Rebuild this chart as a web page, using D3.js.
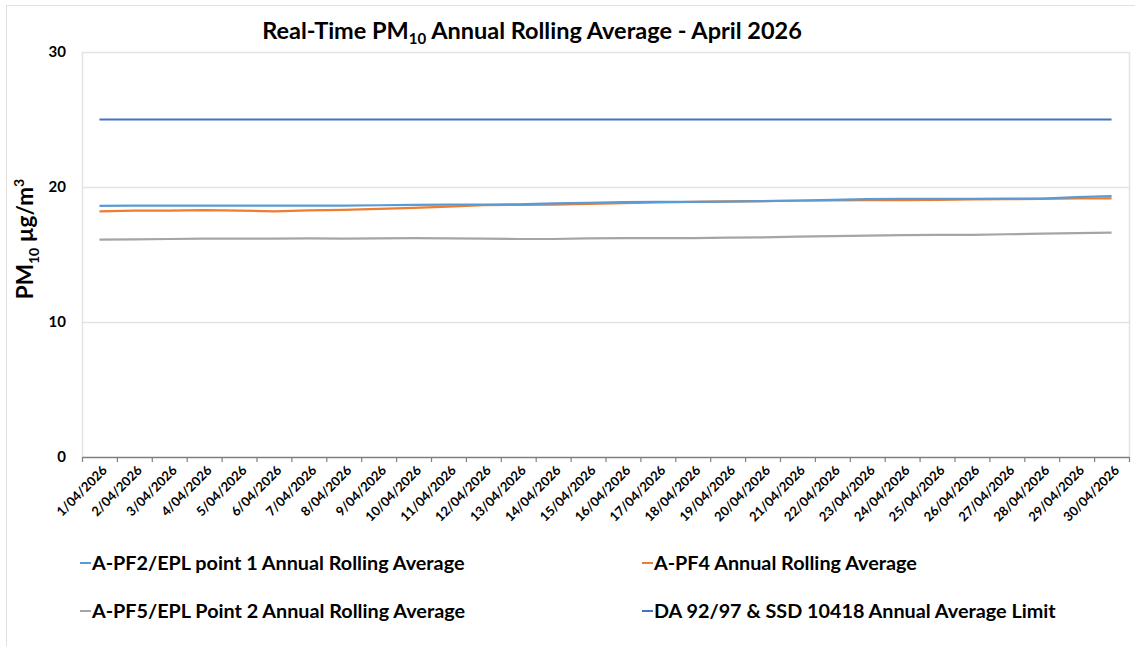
<!DOCTYPE html>
<html><head><meta charset="utf-8">
<script src="https://cdn.jsdelivr.net/npm/d3@7"></script>
<style>body{margin:0;background:#fff}svg{display:block}text{font-family:Lato,"Open Sans",sans-serif;font-weight:bold;fill:#000}</style>
</head><body>
<svg id="c" width="1135" height="646"></svg>
<script>
const categories = ["1/04/2026","2/04/2026","3/04/2026","4/04/2026","5/04/2026","6/04/2026","7/04/2026","8/04/2026","9/04/2026","10/04/2026","11/04/2026","12/04/2026","13/04/2026","14/04/2026","15/04/2026","16/04/2026","17/04/2026","18/04/2026","19/04/2026","20/04/2026","21/04/2026","22/04/2026","23/04/2026","24/04/2026","25/04/2026","26/04/2026","27/04/2026","28/04/2026","29/04/2026","30/04/2026"];
const pf2 = [18.6,18.62,18.62,18.62,18.62,18.62,18.62,18.62,18.65,18.68,18.7,18.7,18.72,18.78,18.82,18.88,18.9,18.9,18.92,18.95,19.0,19.05,19.1,19.12,19.12,19.12,19.14,19.15,19.25,19.32];
const pf4 = [18.2,18.25,18.25,18.28,18.25,18.2,18.27,18.3,18.38,18.45,18.55,18.65,18.68,18.7,18.75,18.8,18.85,18.9,18.93,18.96,18.98,19.0,19.02,19.03,19.05,19.08,19.1,19.12,19.15,19.16];
const pf5 = [16.1,16.12,16.15,16.17,16.17,16.18,16.2,16.18,16.2,16.22,16.2,16.17,16.15,16.15,16.2,16.22,16.22,16.22,16.25,16.27,16.32,16.36,16.4,16.44,16.45,16.46,16.5,16.55,16.58,16.62];
const limit = [25,25,25,25,25,25,25,25,25,25,25,25,25,25,25,25,25,25,25,25,25,25,25,25,25,25,25,25,25,25];
const yTicks = [0,10,20,30];
const seriesNames = ["A-PF2/EPL point 1 Annual Rolling Average","A-PF4 Annual Rolling Average","A-PF5/EPL Point 2 Annual Rolling Average","DA 92/97 & SSD 10418 Annual Average Limit"];
const seriesColors = ["#5B9BD5","#ED7D31","#A5A5A5","#4472C4"];
const seriesData = [pf2, pf4, pf5, limit];

const svg = d3.select("#c");
const L = 82, R = 1129, T = 52, B = 457;
svg.append("rect").attr("x",6.5).attr("y",5.5).attr("width",1140).attr("height",660).attr("fill","none").attr("stroke","#e0e0e0");

const x = d3.scaleBand().domain(categories).range([L,R]);
const y = d3.scaleLinear().domain([0,30]).range([B,T]);

// gridlines
svg.append("g").selectAll("line").data(yTicks.filter(d=>d>0)).join("line")
  .attr("x1",L).attr("x2",R).attr("y1",d=>y(d)+0.5).attr("y2",d=>y(d)+0.5).attr("stroke","#e3e3e3").attr("stroke-width",1.5);
svg.append("line").attr("x1",L+0.5).attr("x2",L+0.5).attr("y1",T).attr("y2",B).attr("stroke","#e3e3e3").attr("stroke-width",1.5);
svg.append("line").attr("x1",R+0.5).attr("x2",R+0.5).attr("y1",T).attr("y2",B).attr("stroke","#e3e3e3").attr("stroke-width",1.5);

// y axis labels
const ya = svg.append("g").attr("transform",`translate(${L},0)`).call(d3.axisLeft(y).tickValues(yTicks).tickSize(0).tickPadding(16));
ya.select(".domain").remove();
ya.selectAll("text").style("font-size","15px").style("font-weight","bold").style("font-family","Lato,sans-serif").attr("fill","#000");

// x axis
const xa = svg.append("g").attr("transform",`translate(0,${B})`).call(d3.axisBottom(x).tickSize(0));
xa.select(".domain").attr("stroke","#7f7f7f").attr("stroke-width",1.5);
xa.selectAll(".tick text").attr("transform",`rotate(-45)`).attr("text-anchor","end").attr("dx","-4px").attr("dy","13px")
  .style("font-size","13px").style("font-weight","bold").style("font-family","Lato,sans-serif").attr("fill","#000");
const bounds = categories.map(c=>x(c)).concat([R]);
svg.append("g").selectAll("line").data(bounds).join("line")
  .attr("x1",d=>d+0.5).attr("x2",d=>d+0.5).attr("y1",B).attr("y2",B+5).attr("stroke","#7f7f7f").attr("stroke-width",1.2);

// lines
const line = d3.line().x((d,i)=>x(categories[i])+x.bandwidth()/2).y(d=>y(d));
[3,2,1,0].forEach(k=>{
  svg.append("path").datum(seriesData[k]).attr("d",line).attr("fill","none").attr("stroke",seriesColors[k]).attr("stroke-width",2.2);
});

// title
const title = svg.append("text").attr("x",532).attr("y",39).attr("text-anchor","middle").style("font-size","23.5px");
title.append("tspan").text("Real-Time PM");
title.append("tspan").text("10").style("font-size","15px").attr("dy","5");
title.append("tspan").text(" Annual Rolling Average - April 2026").attr("dy","-5");

// y title
const yt = svg.append("text").attr("transform","translate(33,239) rotate(-90)").attr("text-anchor","middle").style("font-size","22.5px");
yt.append("tspan").text("PM");
yt.append("tspan").text("10").style("font-size","14px").attr("dy","6");
yt.append("tspan").text(" µg/m").attr("dy","-6");
yt.append("tspan").text("3").style("font-size","14px").attr("dy","-9");

// legend
const legPos = [[80,563],[642,563],[80,611],[642,611]];
seriesNames.forEach((n,i)=>{
  const g = svg.append("g").attr("transform",`translate(${legPos[i][0]},${legPos[i][1]})`);
  g.append("line").attr("x1",0).attr("x2",11).attr("y1",0).attr("y2",0).attr("stroke",seriesColors[i]).attr("stroke-width",2);
  g.append("text").attr("x",12).attr("y",7).style("font-size","19.8px").text(n);
});
</script>
</body></html>
